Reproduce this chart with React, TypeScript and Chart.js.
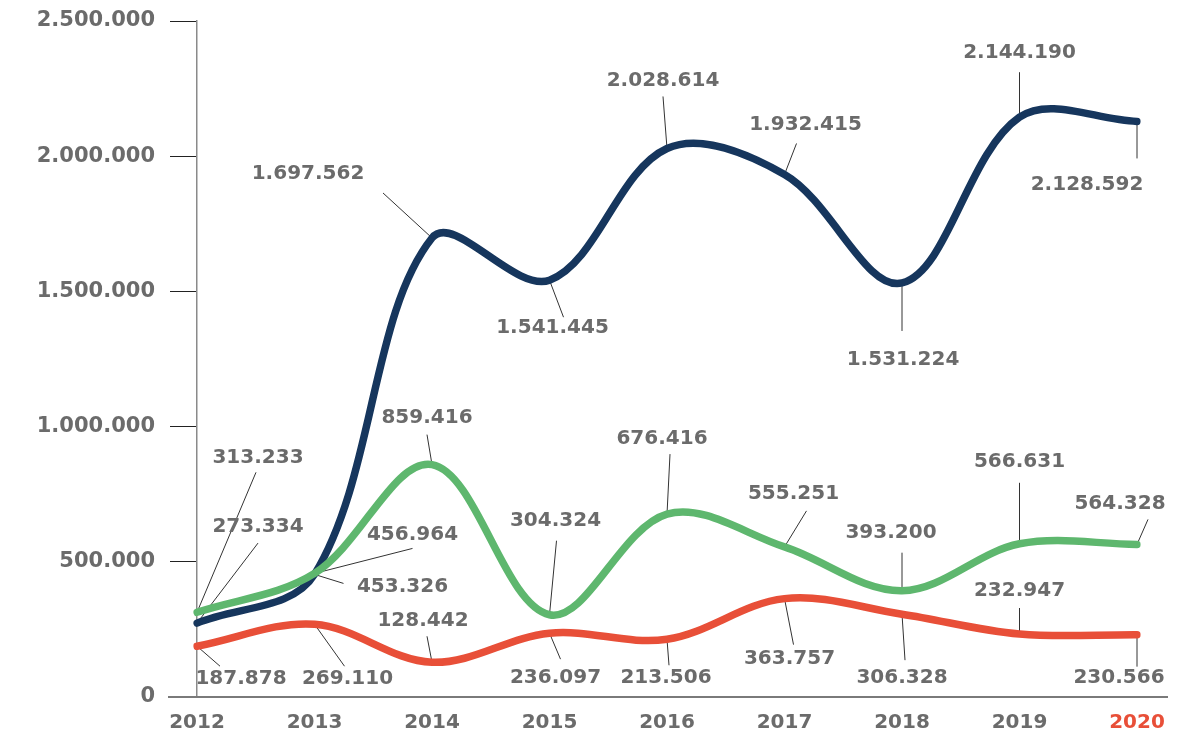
import React, { useEffect, useRef } from 'react';
import { Chart, registerables } from 'chart.js';

Chart.register(...registerables);

const years = ['2012', '2013', '2014', '2015', '2016', '2017', '2018', '2019', '2020'];
const navyValues = [273334, 453326, 1697562, 1541445, 2028614, 1932415, 1531224, 2144190, 2128592];
const greenValues = [313233, 456964, 859416, 304324, 676416, 555251, 393200, 566631, 564328];
const redValues = [187878, 269110, 128442, 236097, 213506, 363757, 306328, 232947, 230566];
const yMax = 2500000;
const yStep = 500000;

// Label placement (style): [labelDx, labelDy, leaderStartDx, leaderStartDy] relative to the point
const navyPlacement = [
  [61, -96, 61, -80],
  [88, 12, 29, 9],
  [-124, -64, -49, -45],
  [3, 48, 14, 37],
  [-4, -68, -4, -52],
  [21, -50, 12, -31],
  [1, 77, 0, 48],
  [0, -64, 0, -45],
  [-50, 63, 0, 37],
];
const greenPlacement = [
  [61, -155, 59, -140],
  [98, -39, 98, -25],
  [-5, -47, -5, -30],
  [6, -94, 7, -74],
  [-5, -75, 3, -60],
  [9, -53, 22, -36],
  [-11, -58, 0, -38],
  [0, -82, 0, -61],
  [-17, -41, 11, -25],
];
const redPlacement = [
  [44, 33, 23, 20],
  [33, 55, 30, 42],
  [-9, -41, -5, -26],
  [6, 45, 11, 26],
  [-1, 39, 2, 26],
  [5, 60, 9, 46],
  [0, 64, 3, 46],
  [0, -43, 0, -26],
  [-18, 43, 0, 32],
];

const NAVY = '#16365d';
const GREEN = '#5eb76e';
const RED = '#e84f38';
const TEXT = '#6b6b6b';
const FONT_FAMILY = '"DejaVu Sans", sans-serif';

const fmt = (v: number) => String(Math.round(v)).replace(/\B(?=(\d{3})+(?!\d))/g, '.');

// datasets order: green, red, navy
const placements = [greenPlacement, redPlacement, navyPlacement];

const leaderLabels = {
  id: 'leaderLabels',
  beforeDatasetsDraw(chart: any) {
    const ctx = chart.ctx;
    ctx.save();
    ctx.strokeStyle = '#333333';
    ctx.lineWidth = 1;
    chart.data.datasets.forEach((_ds: any, di: number) => {
      const meta = chart.getDatasetMeta(di);
      const pl = placements[di];
      meta.data.forEach((pt: any, i: number) => {
        const p = pl[i];
        ctx.beginPath();
        ctx.moveTo(pt.x + p[2], pt.y + p[3]);
        ctx.lineTo(pt.x, pt.y);
        ctx.stroke();
      });
    });
    ctx.restore();
  },
  afterDatasetsDraw(chart: any) {
    const ctx = chart.ctx;
    ctx.save();
    ctx.fillStyle = TEXT;
    ctx.font = `bold 20px ${FONT_FAMILY}`;
    ctx.textAlign = 'center';
    ctx.textBaseline = 'middle';
    chart.data.datasets.forEach((ds: any, di: number) => {
      const meta = chart.getDatasetMeta(di);
      const pl = placements[di];
      meta.data.forEach((pt: any, i: number) => {
        const p = pl[i];
        ctx.fillText(fmt(ds.data[i]), pt.x + p[0], pt.y + p[1]);
      });
    });
    ctx.restore();
  },
  afterDraw(chart: any) {
    const ctx = chart.ctx;
    const area = chart.chartArea;
    ctx.save();
    ctx.strokeStyle = '#7a7a7a';
    ctx.lineWidth = 2;
    ctx.beginPath();
    ctx.moveTo(area.left - 29, area.bottom);
    ctx.lineTo(area.right + 31, area.bottom);
    ctx.stroke();
    ctx.restore();
  },
};

export default function App() {
  const canvasRef = useRef<HTMLCanvasElement | null>(null);

  useEffect(() => {
    document.body.style.margin = '0';
    const canvas = canvasRef.current;
    if (!canvas) return;
    const lineCommon = {
      borderWidth: 7.5,
      pointRadius: 0,
      pointHoverRadius: 0,
      tension: 0.35,
      borderCapStyle: 'round' as const,
      borderJoinStyle: 'round' as const,
      fill: false,
    };
    const chart = new Chart(canvas, {
      type: 'line',
      data: {
        labels: years,
        datasets: [
          { ...lineCommon, label: 'green', data: greenValues, borderColor: GREEN, backgroundColor: GREEN, order: 0 },
          { ...lineCommon, label: 'red', data: redValues, borderColor: RED, backgroundColor: RED, order: 1 },
          { ...lineCommon, label: 'navy', data: navyValues, borderColor: NAVY, backgroundColor: NAVY, order: 2 },
        ],
      },
      options: {
        animation: false,
        responsive: true,
        maintainAspectRatio: false,
        layout: { padding: { top: 21, right: 61, left: 0, bottom: 0 } },
        plugins: {
          legend: { display: false },
          tooltip: { enabled: false },
        },
        scales: {
          x: {
            type: 'category',
            offset: false,
            grid: { display: false, drawTicks: false },
            border: { display: false },
            ticks: {
              autoSkip: false,
              maxRotation: 0,
              padding: 14,
              font: { family: FONT_FAMILY, size: 20, weight: 'bold' },
              color: (c: any) => (c.index === years.length - 1 ? RED : TEXT),
            },
            afterFit: (scale: any) => {
              scale.height = 39;
            },
          },
          y: {
            min: 0,
            max: yMax,
            grid: { drawOnChartArea: false, drawTicks: true, tickLength: 27, color: '#222222', lineWidth: 1 },
            border: { display: true, color: '#8a8a8a', width: 1.5 },
            ticks: {
              stepSize: yStep,
              padding: 15,
              font: { family: FONT_FAMILY, size: 21, weight: 'bold' },
              color: TEXT,
              callback: (v: any) => fmt(Number(v)),
            },
            afterFit: (scale: any) => {
              scale.width = 197;
              scale.paddingTop = 0;
              scale.paddingBottom = 0;
            },
          },
        },
      },
      plugins: [leaderLabels],
    });
    return () => chart.destroy();
  }, []);

  return (
    <div style={{ position: 'fixed', left: 0, top: 0, width: 1198, height: 736, background: '#ffffff' }}>
      <canvas ref={canvasRef} />
    </div>
  );
}
